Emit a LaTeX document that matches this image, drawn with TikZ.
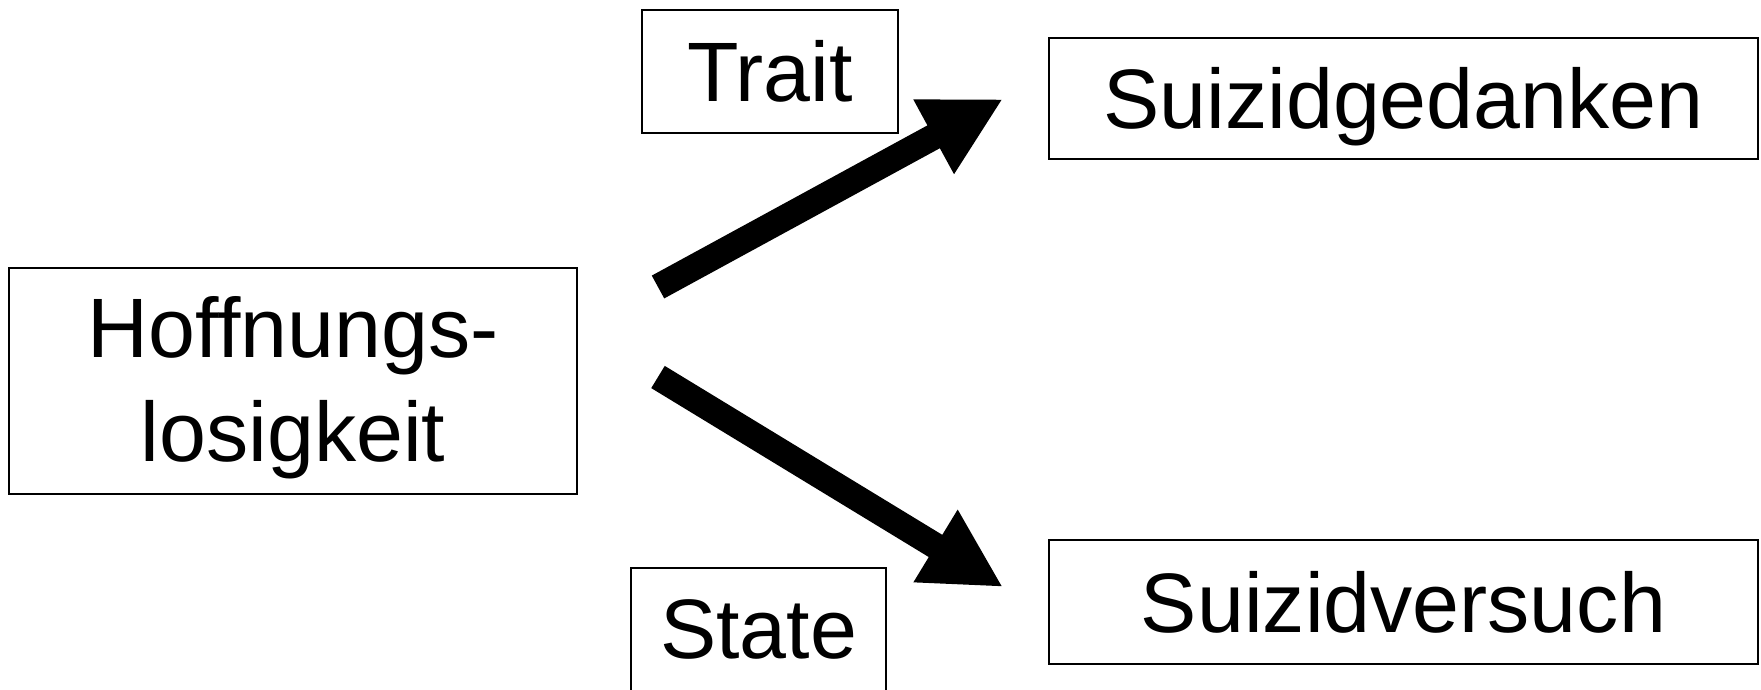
\documentclass[tikz,border=0pt]{standalone}
\usepackage{fontspec}
\setmainfont{Liberation Sans}
\usetikzlibrary{arrows.meta}
\tikzset{
    kasten/.style={draw, line width=0.6pt, inner sep=0pt, align=center,
        font=\fontsize{24}{29.5}\selectfont},
    pfeil/.style={line width=0.26cm, -{Triangle[length=0.79cm, width=0.79cm]}}
}
\newcommand{\tiefer}[1]{\raisebox{-0.08cm}[\height][\depth]{#1}}
\begin{document}
\begin{tikzpicture}
    \useasboundingbox (0,0) rectangle (17.61,6.89);
    \node[kasten, minimum width=5.68cm, minimum height=2.26cm] (hoff) at (2.93,3.08)
        {\tiefer{\begin{tabular}{@{}c@{}}Hoffnungs-\\losigkeit\end{tabular}}};
    \node[kasten, minimum width=2.56cm, minimum height=1.23cm] (trait) at (7.70,6.175) {Trait};
    \node[kasten, minimum width=2.55cm, minimum height=1.23cm] (state) at (7.585,0.595) {State};
    \node[kasten, minimum width=7.09cm, minimum height=1.21cm] (gedanken) at (14.035,5.905) {\tiefer{Suizidgedanken}};
    \node[kasten, minimum width=7.09cm, minimum height=1.24cm] (versuch) at (14.035,0.87) {Suizidversuch};
    \coordinate (t1) at (6.58,4.02); \coordinate (s1) at (10.03,5.90);
    \coordinate (t2) at (6.58,3.12); \coordinate (s2) at (10.03,1.02);
    \draw[pfeil] (t1) -- (s1);
    \draw[pfeil] (t2) -- (s2);
\end{tikzpicture}
\end{document}
